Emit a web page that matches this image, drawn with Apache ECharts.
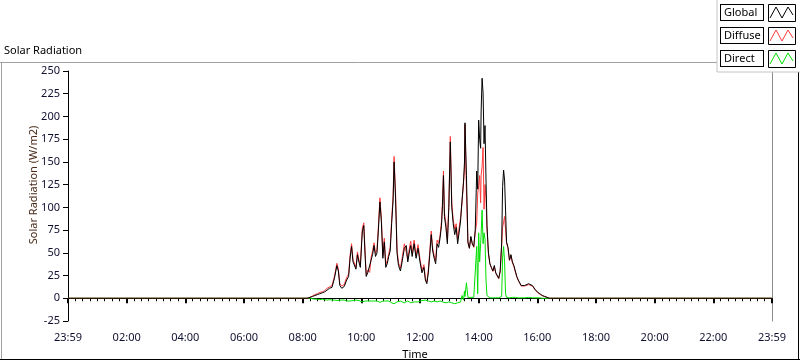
<!DOCTYPE html>
<html>
<head>
<meta charset="utf-8">
<script src="https://cdn.jsdelivr.net/npm/echarts@6/dist/echarts.min.js"></script>
<style>
html,body{margin:0;padding:0;background:#fff;}
#chart{width:800px;height:361px;}
</style>
</head>
<body>
<div id="chart"></div>
<script>
// time of day in minutes after midnight
var times = [0,480,489,495,500,505,510,515,520,525,530,535,540,545,550,553,556,560,565,570,574,577,580,583,586,589,592,595,598,602,605,608,610,613,617,620,623,626,629,632,635,638,641,644,647,650,653,656,659,662,665,667,670,673,676,680,684,688,692,695,698,701,704,708,712,716,720,724,728,731,734,737,740,743,746,749,752,755,758,761,764,766,768,770,773,776,779,782,785,788,791,794,797,800,803,806,809,811,812,815,818,821,824,827,830,833,836,838,840,842,844,845,847,849,851,853,855,857,860,863,866,869,872,875,878,881,884,887,889,891,893,895,897,900,903,906,909,912,915,918,921,924,927,930,934,938,942,946,950,955,960,965,970,975,980,985,1440];
var globalVals = [0,0,0,1,2,3,4,5,6,7,9,11,12,22,36,30,14,11,13,20,24,44,57,40,38,32,48,40,34,73,80,44,24,28,26,42,48,58,46,50,76,106,84,44,62,34,38,46,52,82,108,150,110,50,36,30,42,55,58,40,50,58,46,60,44,55,40,28,34,20,16,28,48,70,52,44,38,60,56,66,80,102,135,90,78,60,100,172,100,82,70,78,60,62,85,108,127,150,193,135,62,55,68,60,57,75,140,120,196,175,165,205,242,226,170,190,130,80,50,38,34,30,36,28,30,22,30,60,123,141,130,97,62,56,42,48,40,36,30,24,20,17,14,13,14,15,16,16,14,10,7,5,3,2,1,0,0];
var diffuseVals = [0,0,0,1,2.5,4,5,6.5,7,8.5,11,12.5,14,24,38.5,32,16,13.5,15,23,26.5,47,60,42.5,41,34,51,42.5,37,77,83,47,26,31,28.5,45,52,61,49.5,53,80,110.5,88,47,66,37,41.5,49,56,87,113,156,115,54,39,33,46,60,62,43,54,63,49.5,64,47,59,43,30.5,37,22,18,31,51.5,74,55,47,41.5,64,60.5,69,85,106,140,94,83,63,104,178,105,86,76,82,65,65,89,105,129,142,191,118,61,55,67,60,56,73,83,115,124,135,105,135,145,166,98,125,110,77,49,37.5,33.5,29.5,35,27.5,29,21.5,29,58,78,84,90,92,61,55,41.5,47,39,35,29,23.5,19.5,16.5,13.5,12.5,13.5,14,15,15.5,13.5,9.5,6.5,4.5,3,2,1,0,0];
var directVals = [0,0,0,0,-0.5,-1,-1,-1.5,-1,-1.5,-2,-1.5,-2,-2,-2.5,-2,-2,-2.5,-2,-3,-2.5,-3,-3,-2.5,-3,-2,-3,-2.5,-3,-4,-3,-3,-2,-3,-2.5,-3,-4,-3,-3.5,-3,-4,-4.5,-4,-3,-4,-3,-3.5,-3,-4,-5,-5,-6,-5,-4,-3,-3,-4,-5,-4,-3,-4,-5,-3.5,-4,-3,-4,-3,-2.5,-3,-2,-2,-3,-3.5,-4,-3,-3,-3.5,-4,-4.5,-3,-5,-4,-5,-4,-5,-3,-4,-6,-5,-4,-6,-4,-5,-3,-4,3,-2,8,2,17,1,0,1,0,1,2,57,5,72,40,60,70,97,60,72,65,20,3,1,0.5,0.5,0.5,1,0.5,1,0.5,1,2,45,57,40,5,1,1,0.5,1,1,1,1,0.5,0.5,0.5,0.5,0.5,0.5,1,1,0.5,0.5,0.5,0.5,0.5,0,0,0,0,0];
var seriesNames = ['Global','Diffuse','Direct'];
var seriesColors = ['#000000','#ff3b3b','#00e000'];
var yMin = -25, yMax = 250, yStep = 25;
var xMin = 0, xMax = 1440, xStep = 120;
var xEndLabel = '23:59';

function pairs(vals){ return times.map(function(t,i){ return [t, vals[i]]; }); }
function fmtTime(v){
  if (v === xMin || v === xMax) return xEndLabel;
  var h = Math.floor(v/60), m = v%60;
  return (h<10?'0':'')+h+':'+(m<10?'0':'')+m;
}
var FONT = 'Noto Sans';
var chart = echarts.init(document.getElementById('chart'), null, {renderer:'canvas'});
var option = {
  animation:false,
  backgroundColor:'#ffffff',
  textStyle:{fontFamily:FONT},
  title:{text:'Solar Radiation', left:4, top:45, padding:0,
    textStyle:{fontFamily:FONT, fontSize:11, fontWeight:'normal', color:'#000'}},
  grid:{left:68, right:28, top:71, bottom:40, containLabel:false, outerBoundsMode:'none'},
  legend:{
    orient:'vertical', left:717, top:-1, align:'right',
    padding:[5,8,5,3], itemGap:6, itemWidth:23, itemHeight:11,
    backgroundColor:'#ffffff', borderColor:'#c4c4c4', borderWidth:1,
    icon:'path://M0,11L6,0L12,11L18,0L23,8',
    symbolKeepAspect:false,
    itemStyle:{color:'rgba(0,0,0,0)', borderWidth:1},
    selectedMode:false,
    formatter:function(n){ return '{a|' + n + '}{s|}'; },
    textStyle:{fontFamily:FONT, fontSize:11, color:'#000',
      rich:{
        a:{fontFamily:FONT, fontSize:11, color:'#000', borderColor:'#000', borderWidth:1,
           padding:[2,3,2,3], width:36, lineHeight:13, align:'left', backgroundColor:'#fff'},
        s:{width:2}
      }},
    data: seriesNames.map(function(n,i){ return {name:n, itemStyle:{borderColor:seriesColors[i]}}; })
  },
  xAxis:[{
    type:'value', min:xMin, max:xMax, interval:xStep, offset:2,
    name:'Time', nameLocation:'middle', nameGap:26,
    nameTextStyle:{fontFamily:FONT, fontSize:11, color:'#000', padding:[0,10,0,0]},
    axisLine:{show:false},
    axisTick:{show:true, length:5, lineStyle:{color:'#000', width:2}},
    minorTick:{show:true, splitNumber:8, length:3, lineStyle:{color:'#000', width:1}},
    splitLine:{show:false},
    axisLabel:{fontFamily:FONT, fontSize:11, color:'#101030', margin:9, formatter:fmtTime, showMinLabel:true, showMaxLabel:true}
  },{
    type:'value', position:'top', min:xMin, max:xMax,
    axisLine:{show:true, lineStyle:{color:'#000', width:1}},
    axisTick:{show:false}, axisLabel:{show:false}, splitLine:{show:false}
  }],
  yAxis:[{
    type:'value', min:yMin, max:yMax, interval:yStep, offset:2,
    name:'Solar Radiation (W/m2)', nameLocation:'middle', nameGap:27, nameMoveOverlap:false,
    nameTextStyle:{fontFamily:FONT, fontSize:11, color:'#4a2a1a', padding:[0,0,0,22]},
    axisLine:{show:false},
    axisTick:{show:true, length:5, lineStyle:{color:'#000', width:1}},
    splitLine:{show:false},
    axisLabel:{fontFamily:FONT, fontSize:11, color:'#101030', margin:6}
  },{
    type:'value', position:'left', min:yMin, max:yMax,
    axisLine:{show:true, lineStyle:{color:'#000', width:1}},
    axisTick:{show:false}, axisLabel:{show:false}, splitLine:{show:false}
  },{
    type:'value', position:'right', min:yMin, max:yMax,
    axisLine:{show:true, lineStyle:{color:'#8c8c8c', width:1}},
    axisTick:{show:false}, axisLabel:{show:false}, splitLine:{show:false}
  }],
  series:[
    {name:seriesNames[2], type:'line', data:pairs(directVals), showSymbol:false, symbol:'none',
      lineStyle:{color:seriesColors[2], width:1}, itemStyle:{color:seriesColors[2]}, z:2},
    {name:seriesNames[1], type:'line', data:pairs(diffuseVals), showSymbol:false, symbol:'none',
      lineStyle:{color:seriesColors[1], width:1}, itemStyle:{color:seriesColors[1]}, z:3},
    {name:seriesNames[0], type:'line', data:pairs(globalVals), showSymbol:false, symbol:'none',
      lineStyle:{color:seriesColors[0], width:1}, itemStyle:{color:seriesColors[0]}, z:4}
  ],
  graphic:[
    {type:'line', z:1, silent:true, shape:{x1:0,y1:62.5,x2:717,y2:62.5}, style:{stroke:'#a0a0a0', lineWidth:1}},
    {type:'line', z:1, silent:true, shape:{x1:1.5,y1:62,x2:1.5,y2:360}, style:{stroke:'#a0a0a0', lineWidth:1}},
    {type:'line', z:1, silent:true, shape:{x1:0,y1:359.5,x2:800,y2:359.5}, style:{stroke:'#000', lineWidth:1}},
    {type:'line', z:1, silent:true, shape:{x1:798.5,y1:72,x2:798.5,y2:360}, style:{stroke:'#000', lineWidth:1}},
    {type:'rect', z:100, silent:true, shape:{x:768.5,y:4.5,width:27,height:17}, style:{fill:'none', stroke:'#000', lineWidth:1}},
    {type:'rect', z:100, silent:true, shape:{x:768.5,y:27.5,width:27,height:17}, style:{fill:'none', stroke:'#000', lineWidth:1}},
    {type:'rect', z:100, silent:true, shape:{x:768.5,y:50.5,width:27,height:17}, style:{fill:'none', stroke:'#000', lineWidth:1}}
  ]
};
chart.setOption(option);
</script>
</body>
</html>
